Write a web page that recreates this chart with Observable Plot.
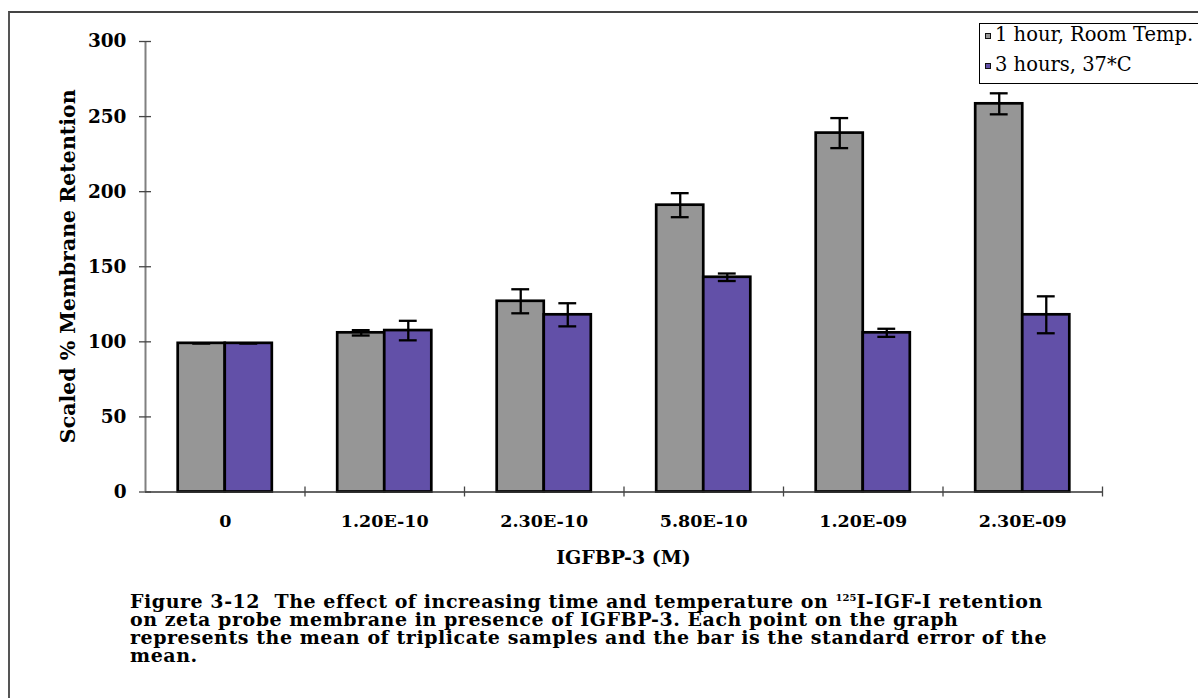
<!DOCTYPE html>
<html>
<head>
<meta charset="utf-8">
<script src="https://cdn.jsdelivr.net/npm/d3@7"></script>
<script src="https://cdn.jsdelivr.net/npm/@observablehq/plot@0.6"></script>
<style>
  html, body { margin: 0; padding: 0; background: #fff; }
  body { width: 1198px; height: 698px; overflow: hidden; position: relative; font-family: "DejaVu Serif", serif; color: #000; }
  #chart { position: absolute; left: 0; top: 0; }
  .frame { position: absolute; left: 8px; top: 11px; width: 1400px; height: 900px; border-left: 2px solid #555; border-top: 2px solid #444; pointer-events: none; }
  .legend { position: absolute; left: 979px; top: 23px; width: 300px; height: 59px; border: 1px solid #000; background: #fff; }
  .sw { position: absolute; width: 4px; height: 4px; border: 1.7px solid #111; }
  .lt { position: absolute; font-size: 19.5px; line-height: 19.5px; white-space: nowrap; }
  .ytitle { position: absolute; left: -182px; top: 255.75px; width: 500px; height: 20.5px; font-size: 20.5px; line-height: 20.5px; font-weight: bold; text-align: center; transform: rotate(-90deg); white-space: nowrap; }
  .xtitle { position: absolute; left: 423.5px; top: 548px; width: 400px; font-size: 19px; line-height: 19px; font-weight: bold; text-align: center; white-space: nowrap; }
  .caption { position: absolute; left: 130px; top: 592px; font-size: 19px; line-height: 18px; letter-spacing: 0.55px; font-weight: bold; white-space: nowrap; }
  .caption .sup { font-size: 10px; vertical-align: 7px; line-height: 0; letter-spacing: 0; }
</style>
</head>
<body>
<div id="chart"></div>
<div class="frame"></div>
<div class="ytitle" id="ytitle"></div>
<div class="xtitle" id="xtitle"></div>
<div class="legend" id="legend"></div>
<div class="caption" id="caption"></div>
<script>
// ---- data ----
const categories = ["0", "1.20E-10", "2.30E-10", "5.80E-10", "1.20E-09", "2.30E-09"];
const seriesNames = ["1 hour, Room Temp.", "3 hours, 37*C"];
const roomTempValues = [99, 106, 127, 191, 239, 258.5];
const roomTempErrors = [0, 1.8, 8, 8, 10, 7];
const warmValues = [99, 107.5, 118, 143, 106, 118];
const warmErrors = [0, 6.5, 7.7, 2.5, 2.7, 12.3];
const yTicks = [0, 50, 100, 150, 200, 250, 300];
const seriesColors = ["#969696", "#6250a8"];
const yTitle = "Scaled % Membrane Retention";
const xTitle = "IGFBP-3 (M)";

// ---- build table ----
const barW = 0.295, capW = 0.056;
const rows = [];
categories.forEach((c, i) => {
  rows.push({i, series: seriesNames[0], value: roomTempValues[i], err: roomTempErrors[i], x1: i - barW, x2: i});
  rows.push({i, series: seriesNames[1], value: warmValues[i], err: warmErrors[i], x1: i, x2: i + barW});
});
rows.forEach(d => { d.xc = (d.x1 + d.x2) / 2; });
const centers = categories.map((c, i) => i);
const boundaries = categories.map((c, i) => i + 0.5);

const plot = Plot.plot({
  width: 1198,
  height: 698,
  marginLeft: 145,
  marginRight: 96,
  marginTop: 41,
  marginBottom: 206.5,
  x: {domain: [-0.5, categories.length - 0.5]},
  y: {domain: [0, 300]},
  color: {domain: seriesNames, range: seriesColors},
  style: {fontFamily: "DejaVu Serif", background: "transparent", color: "#000"},
  marks: [
    Plot.rect(rows, {x1: "x1", x2: "x2", y1: 0, y2: "value", fill: "series", stroke: "#000", strokeWidth: 2.7}),
    Plot.ruleX(rows, {x: "xc", y1: d => d.value - d.err, y2: d => d.value + d.err, stroke: "#000", strokeWidth: 2.3}),
    Plot.ruleY(rows, {y: d => d.value + d.err, x1: d => d.xc - capW, x2: d => d.xc + capW, stroke: "#000", strokeWidth: 2.3}),
    Plot.ruleY(rows, {y: d => d.value - d.err, x1: d => d.xc - capW, x2: d => d.xc + capW, stroke: "#000", strokeWidth: 2.3}),
    Plot.ruleX([-0.5], {stroke: "#808080", strokeWidth: 2}),
    Plot.ruleY([0], {stroke: "#333", strokeWidth: 1.5}),
    Plot.axisY({ticks: yTicks, tickSize: 12, dx: 6, tickFormat: () => "", stroke: "#444", strokeWidth: 1.3, label: null}),
    Plot.axisY({ticks: yTicks, tickSize: 0, tickPadding: 19, fontSize: 18.5, fontWeight: "bold", label: null}),
    Plot.axisX({ticks: boundaries, tickSize: 10, dy: -5, tickFormat: () => "", stroke: "#444", strokeWidth: 1.3, label: null}),
    Plot.axisX({ticks: centers, tickSize: 0, tickPadding: 23, tickFormat: i => categories[i], fontSize: 17.5, fontWeight: "bold", label: null})
  ]
});
document.getElementById("chart").appendChild(plot);

// ---- titles ----
document.getElementById("ytitle").textContent = yTitle;
document.getElementById("xtitle").textContent = xTitle;

// ---- legend ----
const legend = document.getElementById("legend");
seriesNames.forEach((name, k) => {
  const sw = document.createElement("div");
  sw.className = "sw";
  sw.style.left = "5px";
  sw.style.top = (8.5 + k * 30) + "px";
  sw.style.background = seriesColors[k];
  legend.appendChild(sw);
  const t = document.createElement("div");
  t.className = "lt";
  t.style.left = "15px";
  t.style.top = (1.2 + k * 30) + "px";
  t.textContent = name;
  legend.appendChild(t);
});

// ---- caption ----
document.getElementById("caption").innerHTML =
  "Figure 3-12&nbsp; The effect of increasing time and temperature on <span class='sup'>125</span>I-IGF-I retention<br>" +
  "on zeta probe membrane in presence of IGFBP-3. Each point on the graph<br>" +
  "represents the mean of triplicate samples and the bar is the standard error of the<br>" +
  "mean.";
</script>
</body>
</html>
